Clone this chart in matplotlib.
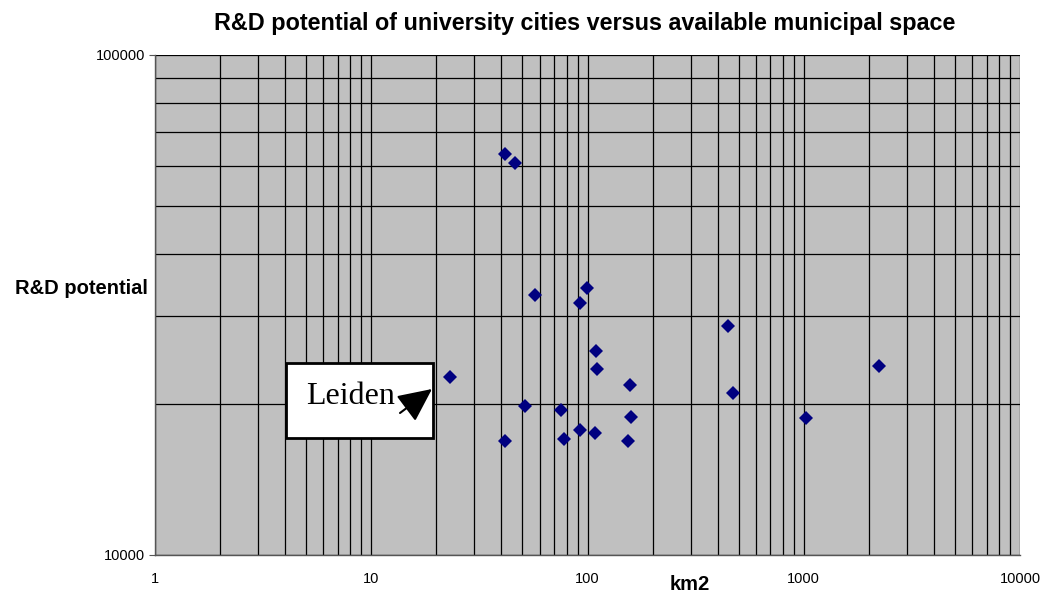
import matplotlib
matplotlib.use("Agg")
import matplotlib.pyplot as plt
from matplotlib.patches import Rectangle, FancyArrowPatch, ArrowStyle
from matplotlib.ticker import FixedLocator, NullFormatter, LogLocator

# municipal space (km2) and R&D potential per university city
area_km2 = [23.1, 41.4, 46.4, 57.4, 92.6, 99.8, 109.5, 110.3, 156.7, 51.4, 75.4,
            159.5, 92.3, 108.7, 77.6, 41.4, 153.9, 444.8, 469, 1028, 2235]
rd_potential = [22700, 63300, 60700, 33100, 31900, 34200, 25600, 23550, 21850, 19830, 19500,
                18880, 17750, 17540, 17060, 16880, 16900, 28700, 21120, 18790, 23880]

x_ticks = [1, 10, 100, 1000, 10000]
x_tick_labels = ["1", "10", "100", "1000", "10000"]
y_ticks = [10000, 100000]
y_tick_labels = ["10000", "100000"]

plt.rcParams["font.family"] = ["Liberation Sans", "DejaVu Sans"]

W, H = 1047, 599
fig = plt.figure(figsize=(W / 100, H / 100), dpi=100)
ax = fig.add_axes([155 / W, 1 - 555 / H, (1020 - 155) / W, (555 - 55) / H])
ax.set_facecolor("#c0c0c0")

ax.set_xscale("log")
ax.set_yscale("log")
ax.set_xlim(1, 10000)
ax.set_ylim(10000, 100000)

ax.xaxis.set_major_locator(FixedLocator(x_ticks))
ax.set_xticklabels(x_tick_labels)
ax.yaxis.set_major_locator(FixedLocator(y_ticks))
ax.set_yticklabels(y_tick_labels)
ax.xaxis.set_minor_locator(LogLocator(base=10, subs=range(2, 10)))
ax.yaxis.set_minor_locator(LogLocator(base=10, subs=range(2, 10)))
ax.xaxis.set_minor_formatter(NullFormatter())
ax.yaxis.set_minor_formatter(NullFormatter())

ax.grid(True, which="both", color="#000000", linewidth=0.9)
ax.set_axisbelow(True)
ax.tick_params(axis="both", which="major", labelsize=10.5, length=4, color="#555555", direction="out")
ax.tick_params(axis="y", pad=3)
ax.tick_params(axis="both", which="minor", length=0)
ax.tick_params(axis="x", length=0, pad=12)
for side in ["top", "right"]:
    ax.spines[side].set_visible(False)
for side in ["left", "bottom"]:
    ax.spines[side].set_color("#555555")
    ax.spines[side].set_linewidth(1.0)

ax.plot(area_km2, rd_potential, linestyle="none", marker="D", markersize=7,
        color="#000080", markeredgewidth=0, zorder=3)

fig.text(585 / W, 1 - 30 / H, "R&D potential of university cities versus available municipal space",
         ha="center", va="baseline", fontsize=16.8, fontweight="bold")
fig.text(148 / W, 1 - 288 / H, "R&D potential", ha="right", va="center", fontsize=14.5, fontweight="bold")
fig.text(690 / W, 1 - 584 / H, "km2", ha="center", va="center", fontsize=14.5, fontweight="bold")

# Leiden callout box
box = Rectangle((286 / W, 1 - 438 / H), (433 - 286) / W, (438 - 363) / H, transform=fig.transFigure,
                facecolor="white", edgecolor="black", linewidth=2, zorder=5)
fig.patches.append(box)
fig.text(351 / W, 1 - 396 / H, "Leiden", ha="center", va="center", fontsize=23,
         family=["Liberation Serif", "DejaVu Serif"], zorder=6)
arrow = FancyArrowPatch((400 / W, 1 - 413 / H), (432 / W, 1 - 389 / H), transform=fig.transFigure,
                        arrowstyle=ArrowStyle("-|>", head_length=0.95, head_width=0.45),
                        mutation_scale=22, shrinkA=0, shrinkB=0,
                        color="black", linewidth=1.5, zorder=6)
fig.patches.append(arrow)

fig.savefig("out.png", dpi=100, facecolor="white")
